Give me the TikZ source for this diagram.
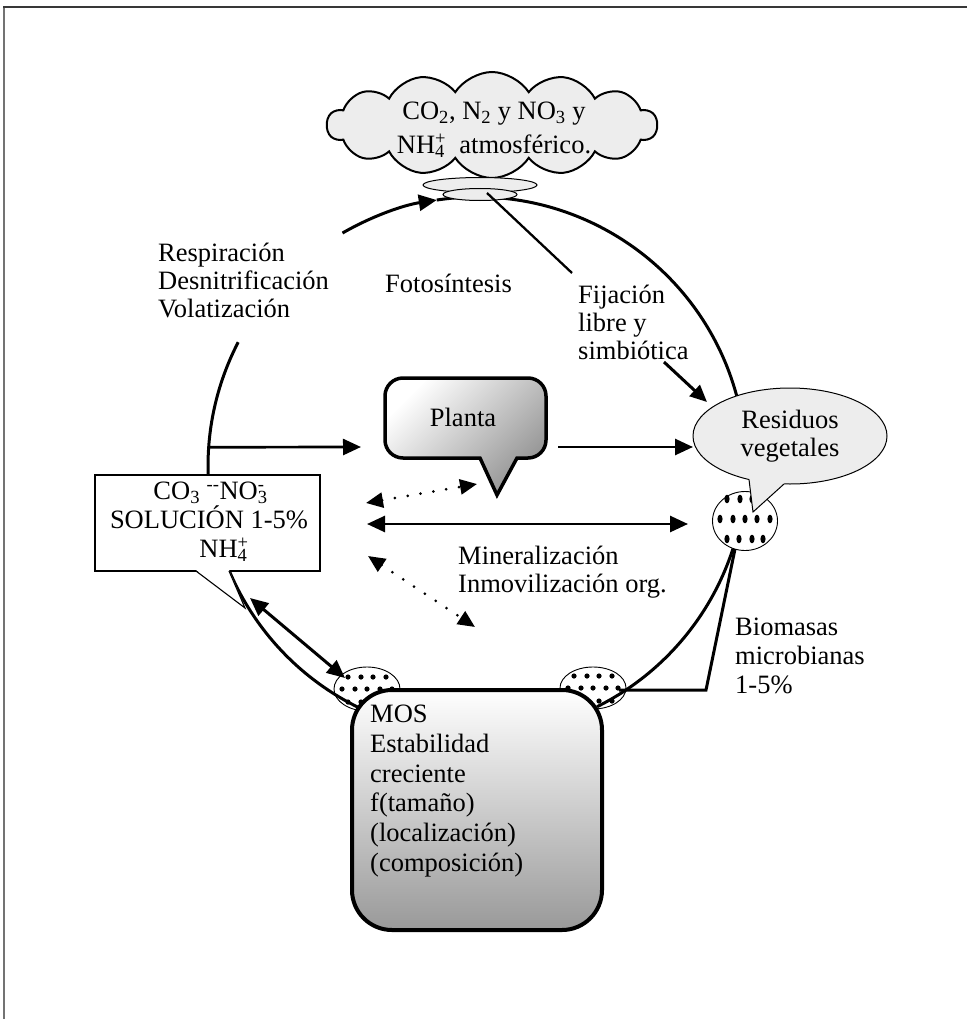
\documentclass[tikz,border=0pt]{standalone}
\usepackage{fontspec}
\setmainfont{Liberation Serif}
\usetikzlibrary{arrows.meta,calc,shapes.geometric,shapes.symbols}

\definecolor{paleg}{gray}{0.93}
\newcommand\subsup[2]{\rlap{\textsubscript{#1}}\textsuperscript{#2}}

\tikzset{
  txt/.style={font=\fontsize{26.5}{28}\selectfont, inner sep=0pt, align=left},
  ring/.style={line width=3pt},
  flow/.style={line width=2.7pt, -{Triangle[length=18pt,width=16pt]}},
  twoway/.style={line width=2.7pt, {Triangle[length=18pt,width=16pt]}-{Triangle[length=18pt,width=16pt]}},
  dotway/.style={line width=3pt, line cap=round, dash pattern=on 0pt off 13pt,
    {Triangle[length=17pt,width=15pt]}-{Triangle[length=17pt,width=15pt]}},
  dotpatch/.style={ellipse, draw, line width=0.9pt, fill=white, inner sep=0pt},
  capring/.style={ellipse, draw, line width=1pt, fill=paleg, inner sep=0pt},
  mosbox/.style={rectangle, draw, line width=4pt, rounded corners=40pt,
    top color=white, bottom color=gray!80, minimum width=250pt, minimum height=240pt, inner sep=0pt},
}

\begin{document}
\begin{tikzpicture}[x=1pt,y=1pt]
\useasboundingbox (0,0) rectangle (967,-1019);

% frame
\draw[line width=1.6pt, black!55] (4,-1019) -- (4,-7);
\draw[line width=2pt, black!78] (3.2,-7) -- (967,-7);

\coordinate (C) at (477,-466);
\def\R{269}

% microbial patches beside the MOS box
\node[dotpatch, minimum width=66pt, minimum height=44pt] (lfd) at (367,-689) {};
\node[dotpatch, minimum width=66pt, minimum height=42pt] (rfd) at (593,-688) {};
\foreach \dx/\dy in {-19/12,-6/12,6/12,19/12,-25/0,-12/0,0/0,13/0,25/0,-19/-13,-6/-13,6/-13,19/-13}{
  \fill ($(lfd)+(\dx,\dy)$) circle[radius=2.6];
  \fill ($(rfd)+(\dx,\dy)$) circle[radius=2.6];
}

% the cycle
\draw[ring, -{Triangle[length=18pt,width=16pt]}] ($(C)+(120:\R)$) arc[start angle=120, end angle=98.6, radius=\R];
\draw[ring] ($(C)+(98.6:\R)$) arc[start angle=98.6, end angle=14.9, radius=\R];
\draw[ring] ($(C)+(152.6:\R)$) arc[start angle=152.6, end angle=244, radius=\R];
\draw[ring] ($(C)+(-17.8:\R)$) arc[start angle=-17.8, end angle=-63.5, radius=\R];

% atmosphere
\node[cloud, cloud puffs=14, cloud puff arc=115, cloud ignores aspect, draw, line width=2pt,
  fill=paleg, minimum width=330pt, minimum height=106pt, inner sep=0pt] (atm) at (492,-125) {};
\node[txt, align=center, font=\fontsize{26.5}{34}\selectfont] (atmtext) at (494,-130)
  {CO\textsubscript{2}, N\textsubscript{2} y NO\textsubscript{3} y\\NH\subsup{4}{+}\ \ atmosférico.};
\node[capring, minimum width=114pt, minimum height=15pt] (cap) at (480,-185) {};
\node[capring, minimum width=74pt, minimum height=12pt] (stem) at (480,-194.5) {};
\coordinate (fixtop) at (487,-193);
\coordinate (fixend) at (572,-273);
\draw[line width=2.3pt] (fixtop) -- (fixend);

% labels
\node[txt, anchor=west] (resp) at (158,-280) {Respiración\\Desnitrificación\\Volatización};
\node[txt] (foto) at (448.5,-283) {Fotosíntesis};
\node[txt, anchor=west] (fij) at (578,-322) {Fijación\\libre y\\simbiótica};
\node[txt, anchor=west] (mineral) at (458,-572) {Mineralización\\Inmovilización org.};
\node[txt, anchor=west, font=\fontsize{26.5}{29}\selectfont] (bio) at (735,-656) {Biomasas\\microbianas\\1-5\%};

% plant
\draw[line width=3.5pt, top color=white, bottom color=gray!85, shading angle=45]
  (403,-378) -- (528,-378) arc[start angle=90, end angle=0, radius=18]
  -- (546,-440) arc[start angle=0, end angle=-90, radius=18]
  -- (517,-458) -- (497,-495) -- (480,-458)
  -- (403,-458) arc[start angle=270, end angle=180, radius=18]
  -- (385,-396) arc[start angle=180, end angle=90, radius=18] -- cycle;
\node[txt] (planta) at (463,-417) {Planta};

% microbial biomass and plant residues
\node[dotpatch, minimum width=65pt, minimum height=59pt] (mic) at (745,-521) {};
\foreach \dx/\dy in {-18/22,-5/22,7/22,-25/2,-12/2,0/2,12/2,25/2,-18/-18,-6/-18,7/-18,18/-18}
  \fill ($(mic)+(\dx,\dy)$) ellipse[x radius=2.6, y radius=4.3];
\node[ellipse, draw, line width=1pt, fill=paleg, minimum width=194pt, minimum height=96pt,
  inner sep=0pt, txt, align=center] (res) at (790,-436) {Residuos\\vegetales};
\fill[paleg] (749,-479.5) -- (753,-512) -- (784,-484) -- (784,-477) -- (749,-475) -- cycle;
\draw[line width=1pt] (749,-479.5) -- (753,-512) -- (784,-484);

% soil solution
\node[draw, line width=1.1pt, fill=white, minimum width=225pt, minimum height=96pt, inner sep=0pt] (sol) at (207.5,-523) {};
\fill[white] (196,-570) -- (245,-608) -- (229,-570) -- cycle;
\draw[line width=1.1pt] (196,-571) -- (245,-608) -- (229,-571);
\node[txt, align=center, font=\fontsize{26.5}{29}\selectfont] (soltext) at (209,-522)
  {CO\textsubscript{3} \textsuperscript{-{}-}NO\subsup{3}{-}\\SOLUCIÓN 1-5\%\\\hspace*{30pt}NH\subsup{4}{+}};

% fluxes
\coordinate (ringW) at ($(C)+(176:\R)$);
\coordinate (toPlant) at (361,-447);
\coordinate (fromPlant) at (558,-447);
\coordinate (toRes) at (693,-447);
\coordinate (mA) at (367,-524);
\coordinate (mB) at (688,-524);
\coordinate (pA) at (366,-503);
\coordinate (pB) at (477,-484);
\coordinate (iA) at (368,-556);
\coordinate (iB) at (475,-627);
\coordinate (fijA) at (664,-362);
\coordinate (fijB) at (707,-402);
\coordinate (sA) at (250,-598);
\coordinate (sB) at (345,-678);
\coordinate (bioA) at (735,-549);
\coordinate (bioK) at (706,-690);
\coordinate (bioB) at (619,-690);

\draw[flow] (ringW) -- (toPlant);
\draw[flow] (fromPlant) -- (toRes);
\draw[twoway] (mA) -- (mB);
\draw[dotway] (pA) -- (pB);
\draw[dotway] (iA) -- (iB);
\draw[line width=3pt, -{Triangle[length=17pt,width=15pt]}] (fijA) -- (fijB);
\draw[twoway, line width=3pt] (sA) -- (sB);
\draw[line width=3pt] (bioA) -- (bioK) -- (bioB);

% soil organic matter
\node[mosbox] (mos) at (477,-810) {};
\node[txt, anchor=west, font=\fontsize{26.5}{29.7}\selectfont] (mostext) at (370,-791)
  {MOS\\Estabilidad\\creciente\\f(tamaño)\\(localización)\\(composición)};

\end{tikzpicture}
\end{document}
